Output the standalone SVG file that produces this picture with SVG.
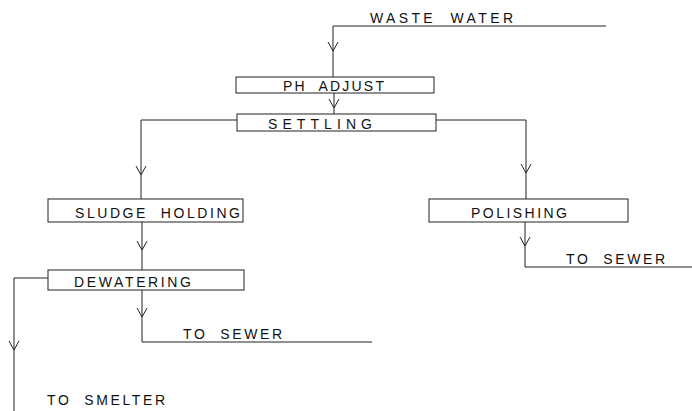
<svg xmlns="http://www.w3.org/2000/svg" width="692" height="411" viewBox="0 0 692 411">
<style>
.box{fill:#fff;stroke:#222;stroke-width:1}
.ln{fill:none;stroke:#222;stroke-width:1}
.ah{fill:none;stroke:#222;stroke-width:1}
text{font-family:"Liberation Sans",Arial,sans-serif;font-size:14px;fill:#111}
</style>
<rect width="692" height="411" fill="#fff"/>
<g id="connectors">
<path class="ln" d="M606,26 H333 V77"/>
<path class="ah" d="M328,42 L333,51 L338,42"/>
<path class="ln" d="M334,93 V114"/>
<path class="ah" d="M329,99 L334,108 L339,99"/>
<path class="ln" d="M237,120 H141 V199"/>
<path class="ah" d="M136,166 L141,175 L146,166"/>
<path class="ln" d="M436,120 H526 V199"/>
<path class="ah" d="M521,164 L526,173 L531,164"/>
<path class="ln" d="M142,222 V270"/>
<path class="ah" d="M137,241 L142,250 L147,241"/>
<path class="ln" d="M48,278 H14 V411"/>
<path class="ah" d="M9,341 L14,350 L19,341"/>
<path class="ln" d="M142,290 V342 H372"/>
<path class="ah" d="M137,308 L142,317 L147,308"/>
<path class="ln" d="M525,222 V267 H692"/>
<path class="ah" d="M520,237 L525,246 L530,237"/>
</g>
<g id="waste-water"><text x="370" y="23" textLength="143" lengthAdjust="spacing" xml:space="preserve">WASTE  WATER</text></g>
<g id="ph-adjust"><rect class="box" x="236" y="77" width="198" height="16"/><text x="283" y="91" textLength="101" lengthAdjust="spacing" xml:space="preserve">PH  ADJUST</text></g>
<g id="settling"><rect class="box" x="237" y="114" width="199" height="17"/><text x="268" y="129" textLength="104" lengthAdjust="spacing">SETTLING</text></g>
<g id="sludge-holding"><rect class="box" x="48" y="199" width="195" height="23"/><text x="75" y="218" textLength="165" lengthAdjust="spacing" xml:space="preserve">SLUDGE  HOLDING</text></g>
<g id="polishing"><rect class="box" x="429" y="199" width="199" height="23"/><text x="471" y="218" textLength="96" lengthAdjust="spacing">POLISHING</text></g>
<g id="dewatering"><rect class="box" x="48" y="270" width="196" height="20"/><text x="74" y="287" textLength="117" lengthAdjust="spacing">DEWATERING</text></g>
<g id="to-sewer-1"><text x="183" y="339" textLength="99" lengthAdjust="spacing" xml:space="preserve">TO  SEWER</text></g>
<g id="to-sewer-2"><text x="566" y="264" textLength="99" lengthAdjust="spacing" xml:space="preserve">TO  SEWER</text></g>
<g id="to-smelter"><text x="47" y="405" textLength="118" lengthAdjust="spacing" xml:space="preserve">TO  SMELTER</text></g>
</svg>
